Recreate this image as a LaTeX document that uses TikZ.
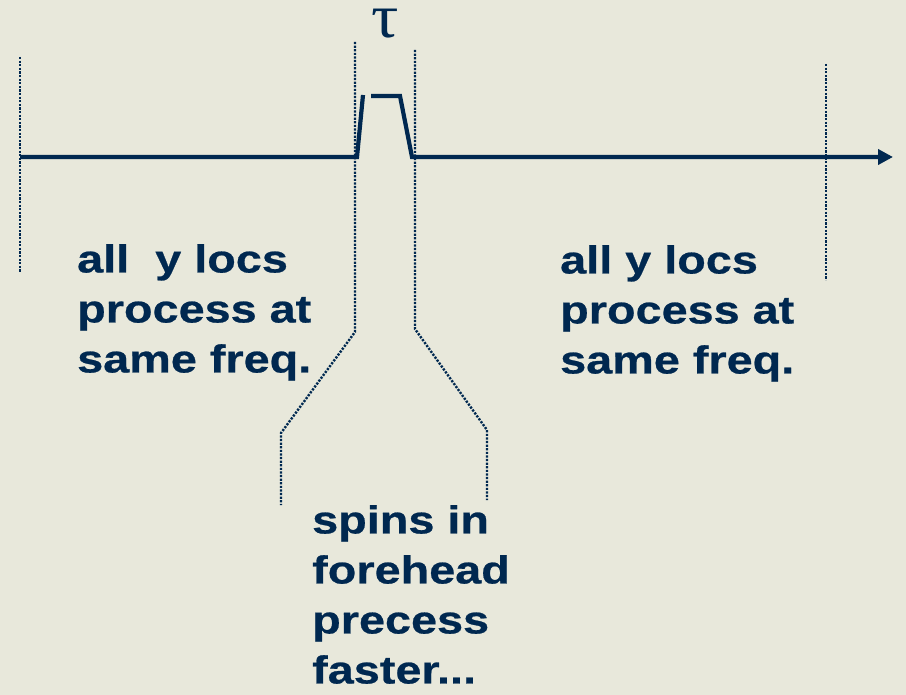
\documentclass[tikz,border=0pt]{standalone}
\usepackage{fontspec}
\setmainfont{Liberation Sans}[FakeStretch=1.2, FakeBold=0.6]
\newfontfamily\taufont{Liberation Serif}[FakeStretch=1.1]
\usetikzlibrary{arrows.meta}
\definecolor{bgc}{RGB}{232,232,219}
\definecolor{ink}{RGB}{0,40,80}
\tikzset{
  axisline/.style={draw=ink, line width=4.2pt},
  guide/.style={draw=ink, line width=2.4pt, dash pattern=on 2.2pt off 1.4pt},
  label/.style={anchor=north west, inner sep=0pt, align=left, text=ink,
    font=\fontsize{39}{50}\selectfont\bfseries},
}
\begin{document}
\begin{tikzpicture}[x=1pt,y=-1pt]
\fill[bgc] (0,0) rectangle (906,695);
\useasboundingbox (0,0) rectangle (906,695);
% coordinates
\coordinate (a0) at (20,157);
\coordinate (a1) at (357,157);
\coordinate (a2) at (363,95);
\coordinate (b0) at (371,96);
\coordinate (b1) at (400,96);
\coordinate (b2) at (412,157);
\coordinate (b3) at (893,157);
% main line with pulse
\draw[axisline, line join=miter] (a0) -- (a1) -- (a2);
\draw[axisline, line join=miter, -{Triangle[length=15pt,width=15pt]}] (b0) -- (b1) -- (b2) -- (b3);
% outer guides
\coordinate (l0) at (20,57);  \coordinate (l1) at (20,272);
\coordinate (r0) at (826,64); \coordinate (r1) at (826,280);
\draw[guide] (l0) -- (l1);
\draw[guide] (r0) -- (r1);
% pulse guides
\coordinate (p0) at (355,42);  \coordinate (p1) at (355,332);
\coordinate (p2) at (281,433); \coordinate (p3) at (281,505);
\coordinate (q0) at (415,50);  \coordinate (q1) at (415,329);
\coordinate (q2) at (487,430); \coordinate (q3) at (487,500);
\draw[guide] (p0) -- (p1) -- (p2) -- (p3);
\draw[guide] (q0) -- (q1) -- (q2) -- (q3);
% labels
\node[anchor=base, inner sep=0pt, text height=28pt, text depth=2pt, text=ink,
  font=\taufont\fontsize{62}{62}\selectfont] (tau) at (385,38) {τ};
\node[label] (left) at (77,244) {all\ \ y locs\\process at\\same freq.};
\node[label] (right) at (560,245) {all y locs\\process at\\same freq.};
\node[label] (bottom) at (312,505) {spins in\\forehead\\precess\\faster...};
\end{tikzpicture}
\end{document}
